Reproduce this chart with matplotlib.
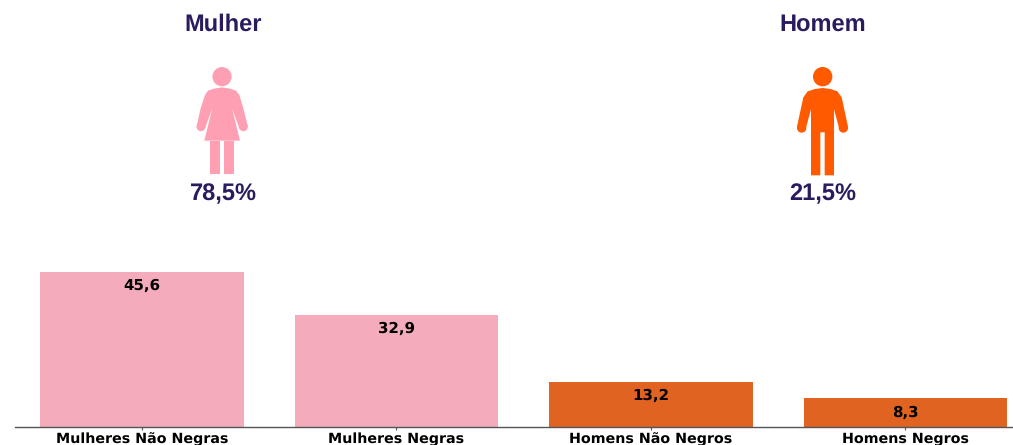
import matplotlib.pyplot as plt
from matplotlib.font_manager import FontProperties
from matplotlib.patches import Circle, Polygon

plt.rcParams["text.hinting"] = "no_hinting"

# ---- data -------------------------------------------------------------------
categories = ["Mulheres Não Negras", "Mulheres Negras", "Homens Não Negros", "Homens Negros"]
values = [45.6, 32.9, 13.2, 8.3]
group_titles = ["Mulher", "Homem"]
group_shares = ["78,5%", "21,5%"]

BAR_PINK = "#F4ACBD"
BAR_ORANGE = "#E06321"
ICON_PINK = "#FF9FB3"
ICON_ORANGE = "#FF5A00"
NAVY = "#2A1A5E"
bar_colors = [BAR_PINK, BAR_PINK, BAR_ORANGE, BAR_ORANGE]

W, H = 1013, 445
fig = plt.figure(figsize=(W / 100, H / 100), dpi=100)

# ---- bars -------------------------------------------------------------------
base_y = 426.5
ax = fig.add_axes([15 / W, (H - base_y) / H, (W - 15) / W, 200 / H])
x = list(range(len(values)))
ax.bar(x, values, width=0.8, color=bar_colors)
ax.set_xlim(-0.499, 3.423)
ax.set_ylim(0, 200 / 3.39)
ax.set_xticks(x)
ax.set_xticklabels(categories, fontweight="bold", fontsize=10.3, color="black",
                   va="baseline", rotation_mode="anchor")
ax.tick_params(axis="x", length=2, width=0.8, pad=10, color="#555555")
ax.set_yticks([])
for s in ["top", "left", "right"]:
    ax.spines[s].set_visible(False)
ax.spines["bottom"].set_color("#555555")
ax.spines["bottom"].set_linewidth(1.0)
ax.patch.set_alpha(0)

for i, v in zip(x, values):
    ax.annotate(f"{v:.1f}".replace(".", ","), (i, v), xytext=(0, -10.2),
                textcoords="offset points", ha="center", va="center",
                fontweight="bold", fontsize=10.8, color="black")

# ---- icons and titles, drawn in pixel coordinates ---------------------------
top = fig.add_axes([0, 0, 1, 1])
top.set_xlim(0, W)
top.set_ylim(H, 0)
top.axis("off")
top.patch.set_alpha(0)


def z(points, ox):
    return [(ox + px / 3, py / 3) for px, py in points]


def draw_woman(color):
    ox = 150
    top.add_patch(Circle((ox + 216 / 3, 230 / 3), 9.6, color=color, lw=0))
    body = [(192, 266), (216, 262), (240, 266), (258, 272), (268, 285), (280, 325),
            (293, 378), (268, 385), (246, 325), (270, 422),
            (163, 422), (187, 325), (165, 385), (140, 378),
            (152, 325), (165, 285), (174, 272)]
    top.add_patch(Polygon(z(body, ox), closed=True, color=color, lw=0))
    for hand in [(153, 380), (280, 380)]:
        top.add_patch(Circle(z([hand], ox)[0], 13.5 / 3, color=color, lw=0))
    for a, b in [(181, 210), (222, 251)]:
        leg = [(a, 422), (b, 422), (b, 522), (a, 522)]
        top.add_patch(Polygon(z(leg, ox), closed=True, color=color, lw=0))


def draw_man(color):
    ox = 750
    top.add_patch(Circle((ox + 218 / 3, 230 / 3), 9.7, color=color, lw=0))
    body = [(195, 267), (218, 264), (242, 267), (262, 274), (275, 292), (294, 380),
            (268, 387), (252, 328), (252, 526),
            (224, 526), (224, 397), (211, 397), (211, 526), (183, 526), (183, 328),
            (167, 387), (141, 380), (160, 292), (173, 274)]
    top.add_patch(Polygon(z(body, ox), closed=True, color=color, lw=0))
    for hand in [(155, 384), (280, 384)]:
        top.add_patch(Circle(z([hand], ox)[0], 14 / 3, color=color, lw=0))


draw_woman(ICON_PINK)
draw_man(ICON_ORANGE)

font = FontProperties(family="Liberation Sans", weight="bold", size=17)
for cx, title, share in zip([223, 823], group_titles, group_shares):
    top.text(cx, 25, title, ha="center", va="center", color=NAVY, fontproperties=font)
    top.text(cx, 194, share, ha="center", va="center", color=NAVY, fontproperties=font)

fig.savefig("out.png", dpi=100)
